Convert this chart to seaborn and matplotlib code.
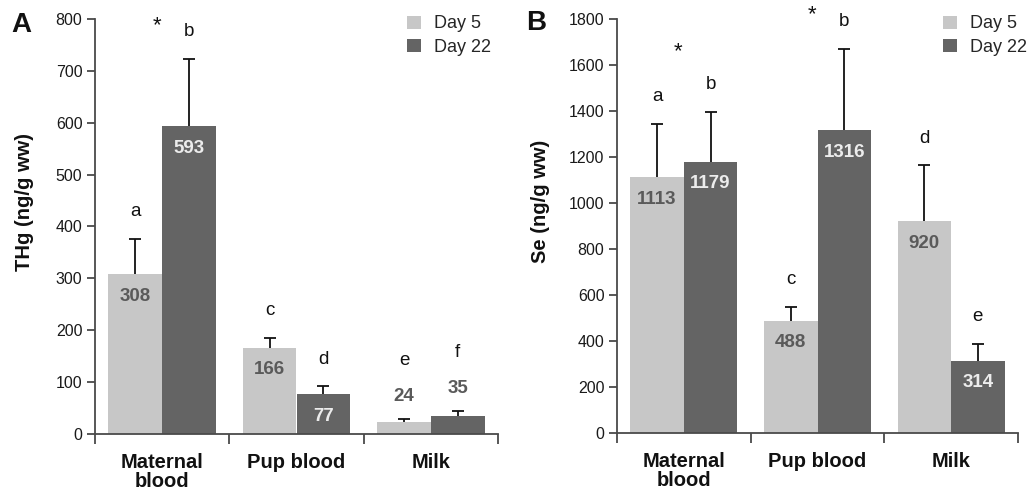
import numpy as np
import pandas as pd
import matplotlib
matplotlib.use("Agg")
import matplotlib.pyplot as plt
import seaborn as sns
from matplotlib.patches import Patch
from matplotlib.container import BarContainer

# ---------------- data ----------------
categories = ["Maternal\nblood", "Pup blood", "Milk"]
days = ["Day 5", "Day 22"]

thg_day5 = [308, 166, 24]
thg_day22 = [593, 77, 35]
thg_sd_day5 = [68, 20, 5]
thg_sd_day22 = [130, 15, 10]
thg_letters_day5 = ["a", "c", "e"]
thg_letters_day22 = ["b", "d", "f"]
thg_star_y = [788, None, None]   # height of the "*" significance marker

se_day5 = [1113, 488, 920]
se_day22 = [1179, 1316, 314]
se_sd_day5 = [232, 60, 244]
se_sd_day22 = [218, 354, 74]
se_letters_day5 = ["a", "c", "d"]
se_letters_day22 = ["b", "b", "e"]
se_star_y = [1658, 1817, None]

# ---------------- style ----------------
sns.set_style("ticks")
plt.rcParams["font.family"] = ["Liberation Sans", "DejaVu Sans"]
LIGHT = "#c7c7c7"
DARK = "#646464"
SPINE = "#4a4a4a"
PX = 0.72  # points per pixel at dpi 100

W, H = 1029, 494
fig = plt.figure(figsize=(W / 100, H / 100), dpi=100)


def panel(rect, d5, d22, sd5, sd22, l5, l22, star_y, ymax, ystep, ylabel,
          tag, tagpos, ylab_x, leg_x):
    ax = fig.add_axes(rect)
    df = pd.DataFrame({
        "Tissue": categories * 2,
        "Day": [days[0]] * len(categories) + [days[1]] * len(categories),
        "Value": list(d5) + list(d22),
    })
    sns.barplot(data=df, x="Tissue", y="Value", hue="Day", hue_order=days,
                order=categories, palette=[LIGHT, DARK], errorbar=None,
                width=0.8, saturation=1, linewidth=0, ax=ax, legend=False)
    ax.set_xlim(-0.5, len(categories) - 0.5)
    ax.set_ylim(0, ymax)
    ax.set_yticks(np.arange(0, ymax + 1, ystep))

    axh_px = rect[3] * H
    sds = [sd5, sd22]
    letters = [l5, l22]
    bar_conts = [c for c in ax.containers if isinstance(c, BarContainer)]
    for j, cont in enumerate(bar_conts):
        for i, bar in enumerate(cont.patches):
            x = bar.get_x() + bar.get_width() / 2
            h = bar.get_height()
            sd = sds[j][i]
            eb = ax.errorbar(x, h, yerr=[[0], [sd]], fmt="none", ecolor="#111111",
                             elinewidth=1.3, capsize=4.2, capthick=1.3, zorder=3)
            eb[1][0].set_visible(False)  # no cap at the bar top
            top = h + sd
            short = h / ymax * axh_px < 30
            if not short:
                col = "#5a5a5a" if j == 0 else "#ececec"
                ax.annotate(str(int(h)), (x, h), xytext=(0, -22 * PX),
                            textcoords="offset points", ha="center", va="center",
                            fontsize=13.5, fontweight="bold", color=col, zorder=4)
                ax.annotate(letters[j][i], (x, top), xytext=(0, 27 * PX),
                            textcoords="offset points", ha="center", va="center",
                            fontsize=13.5, color="#111111")
            else:
                ax.annotate(str(int(h)), (x, top), xytext=(0, 22 * PX),
                            textcoords="offset points", ha="center", va="center",
                            fontsize=13.5, fontweight="bold", color="#5a5a5a")
                ax.annotate(letters[j][i], (x, top), xytext=(0, 58 * PX),
                            textcoords="offset points", ha="center", va="center",
                            fontsize=13.5, color="#111111")
    for i, sy in enumerate(star_y):
        if sy is not None:
            ax.annotate("*", (i - 0.04, sy), ha="center", va="center",
                        fontsize=16, color="#111111", annotation_clip=False)

    # axes styling
    sns.despine(ax=ax)
    for sp in ("left", "bottom"):
        ax.spines[sp].set_color(SPINE)
        ax.spines[sp].set_linewidth(1.3)
    ax.tick_params(axis="y", direction="out", length=6, width=1.3, color=SPINE,
                   labelsize=11.5, labelcolor="#1a1a1a", pad=3)
    ax.tick_params(axis="x", which="major", length=0, pad=14,
                   labelsize=14.5, labelcolor="#111111")
    ax.set_xticks(np.arange(-0.5, len(categories), 1.0), minor=True)
    ax.tick_params(axis="x", which="minor", direction="out", length=7,
                   width=1.3, color=SPINE)
    for t in ax.get_xticklabels():
        t.set_fontweight("bold")
        t.set_linespacing(1.0)
    ax.set_xlabel("")
    ax.set_ylabel(ylabel, fontsize=14.5, fontweight="bold", color="#111111",
                  va="center")
    ax.yaxis.set_label_coords(ylab_x, 0.56)

    handles = [Patch(facecolor=LIGHT, edgecolor="none"),
               Patch(facecolor=DARK, edgecolor="none")]
    ax.legend(handles, days, loc="upper right", bbox_to_anchor=(leg_x, 1.026),
              frameon=False, fontsize=13, handlelength=0.8, handleheight=0.75,
              handletextpad=0.7, labelspacing=0.35, borderaxespad=0)

    fig.text(tagpos[0] / W, 1 - tagpos[1] / H, tag, fontsize=20,
             fontweight="bold", ha="left", va="center", color="#111111")
    return ax


panel([95 / W, 1 - 434 / H, 403 / W, 415 / H],
      thg_day5, thg_day22, thg_sd_day5, thg_sd_day22,
      thg_letters_day5, thg_letters_day22, thg_star_y,
      800, 100, "THg (ng/g ww)", "A", (11, 25), -0.174, 1.0)

panel([617 / W, 1 - 433 / H, 401 / W, 414 / H],
      se_day5, se_day22, se_sd_day5, se_sd_day22,
      se_letters_day5, se_letters_day22, se_star_y,
      1800, 200, "Se (ng/g ww)", "B", (526, 23), -0.192, 1.04)

fig.savefig("out.png", dpi=100)
